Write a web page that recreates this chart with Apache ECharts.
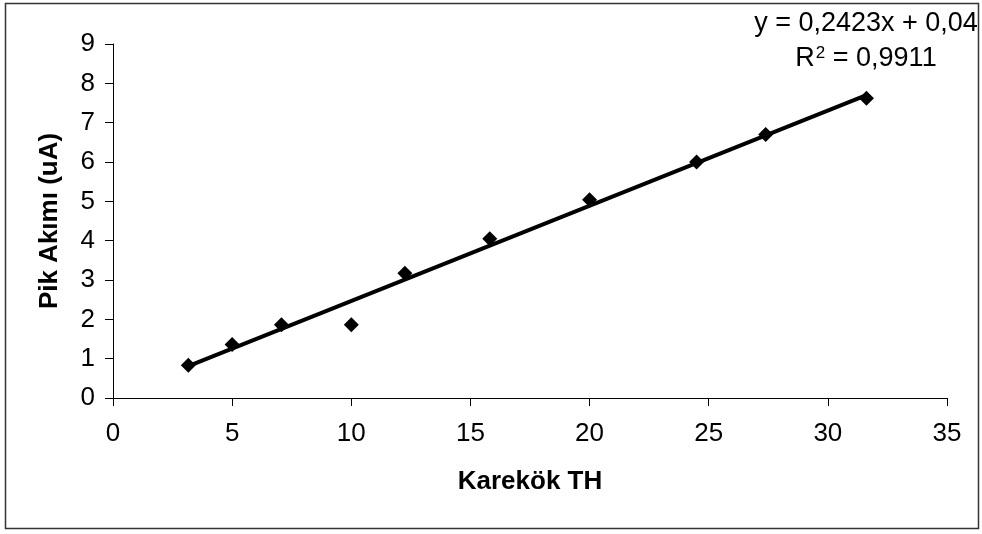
<!DOCTYPE html>
<html>
<head>
<meta charset="utf-8">
<script src="https://cdn.jsdelivr.net/npm/echarts@6/dist/echarts.min.js"></script>
<style>
html,body{margin:0;padding:0;background:#fff;}
#chart{width:982px;height:534px;}
</style>
</head>
<body>
<div id="chart"></div>
<script>
// Data
var xValues = [3.16, 5.0, 7.07, 10.0, 12.25, 15.81, 20.0, 24.49, 27.39, 31.62];
var yValues = [0.83, 1.36, 1.86, 1.86, 3.17, 4.05, 5.04, 6.0, 6.70, 7.62];
var trendX = [3.16, 31.62];
var trendY = [0.81, 7.70];
var xTitle = 'Karekök TH';
var yTitle = 'Pik Akımı (uA)';
var eqLine1 = 'y = 0,2423x + 0,04';
var eqLine2 = '{r|R}{s|2}{r| = 0,9911}';

var points = xValues.map(function (x, i) { return [x, yValues[i]]; });
var trend = trendX.map(function (x, i) { return [x, trendY[i]]; });

var font = 'Liberation Sans, Arial, sans-serif';
var chart = echarts.init(document.getElementById('chart'), null, {renderer: 'canvas'});
chart.setOption({
  animation: false,
  backgroundColor: '#fff',
  grid: {left: 113, right: 35, top: 44, bottom: 136, containLabel: false},
  xAxis: {
    type: 'value', min: 0, max: 35, interval: 5,
    name: xTitle, nameLocation: 'middle', nameGap: 71,
    nameTextStyle: {fontFamily: font, fontSize: 26, fontWeight: 'bold', color: '#000'},
    axisLine: {onZero: false, lineStyle: {color: '#000', width: 1}},
    axisTick: {show: true, inside: false, length: 8, lineStyle: {color: '#000'}},
    axisLabel: {fontFamily: font, fontSize: 26, color: '#000', margin: 23},
    splitLine: {show: false}
  },
  yAxis: {
    type: 'value', min: 0, max: 9, interval: 1,
    name: yTitle, nameLocation: 'middle', nameGap: 50, nameRotate: 90,
    nameTextStyle: {fontFamily: font, fontSize: 26, fontWeight: 'bold', color: '#000'},
    axisLine: {show: true, onZero: false, lineStyle: {color: '#000', width: 1}},
    axisTick: {show: true, inside: false, length: 8, lineStyle: {color: '#000'}},
    axisLabel: {fontFamily: font, fontSize: 26, color: '#000', margin: 18},
    splitLine: {show: false}
  },
  series: [
    {
      type: 'scatter', data: points, symbol: 'diamond', symbolSize: 15,
      itemStyle: {color: '#000', opacity: 1}, z: 2
    },
    {
      type: 'line', data: trend, symbol: 'none', z: 3,
      lineStyle: {color: '#000', width: 4}
    }
  ],
  graphic: [
    {type: 'rect', shape: {x: 5.5, y: 3.5, width: 973, height: 525},
     style: {fill: null, stroke: '#333', lineWidth: 1.5}, silent: true, z: 0},
    {type: 'text', x: 866, y: 24, style: {text: eqLine1, fontFamily: font, fontSize: 27,
      fill: '#000', textAlign: 'center', textVerticalAlign: 'middle'}},
    {type: 'text', x: 866, y: 59, style: {text: eqLine2, fontFamily: font, fontSize: 27,
      fill: '#000', textAlign: 'center', textVerticalAlign: 'middle',
      rich: {
        r: {fontFamily: font, fontSize: 27, fill: '#000', lineHeight: 30},
        s: {fontFamily: font, fontSize: 17, fill: '#000', lineHeight: 30, verticalAlign: 'top', padding: [1, 0, 0, 1]}
      }}}
  ]
});
</script>
</body>
</html>
